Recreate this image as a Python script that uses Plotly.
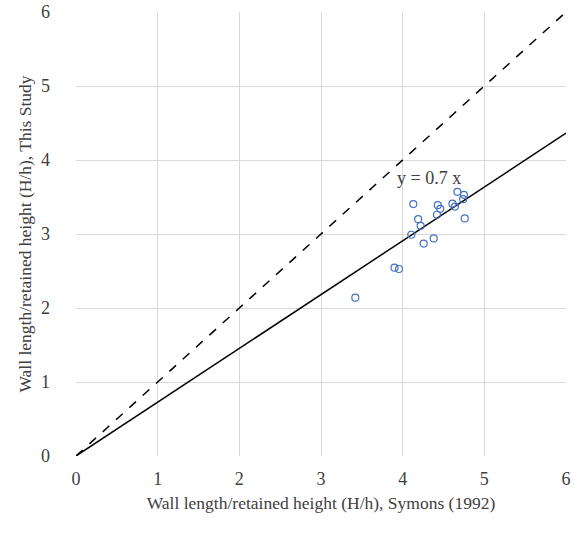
import plotly.graph_objects as go

symons_x = [3.42, 3.90, 3.955, 4.106, 4.257, 4.38, 4.13, 4.19, 4.22, 4.42, 4.43, 4.46, 4.61, 4.64, 4.67, 4.75, 4.74, 4.76]
study_y = [2.14, 2.545, 2.527, 2.99, 2.87, 2.94, 3.405, 3.20, 3.11, 3.26, 3.39, 3.34, 3.41, 3.37, 3.57, 3.53, 3.47, 3.21]
line_x = [0, 6]
fit_slope = 0.727
unity_slope = 1.0

fig = go.Figure()
fig.add_trace(go.Scatter(x=line_x, y=[unity_slope * v for v in line_x], mode="lines",
                         line=dict(color="black", width=1.5, dash="dash"), showlegend=False))
fig.add_trace(go.Scatter(x=line_x, y=[fit_slope * v for v in line_x], mode="lines",
                         line=dict(color="black", width=1.5), showlegend=False))
fig.add_trace(go.Scatter(x=symons_x, y=study_y, mode="markers",
                         marker=dict(symbol="circle-open", size=7, color="#4472C4", line=dict(width=1.2)),
                         showlegend=False, cliponaxis=False))
fig.add_annotation(x=4.32, y=3.76, text="y = 0.7 x", showarrow=False,
                   font=dict(family="Liberation Serif", size=18, color="#404040"))

tickfont = dict(family="Liberation Serif", size=18, color="#404040")
titlefont = dict(family="Liberation Serif", size=17.5, color="#404040")
fig.update_layout(
    width=581, height=535,
    margin=dict(l=76, r=15, t=12, b=79, autoexpand=False),
    plot_bgcolor="white", paper_bgcolor="white",
    font=tickfont,
    hovermode=False,
    xaxis=dict(range=[0, 6], dtick=1, showgrid=True, gridcolor="#d9d9d9", gridwidth=1,
               zeroline=False, showline=False, ticks="", tickfont=tickfont, automargin=False,
               ticklabelstandoff=10, ticklabeloverflow="allow",
               title=dict(text="Wall length/retained height (H/h), Symons (1992)",
                          font=titlefont, standoff=8)),
    yaxis=dict(range=[0, 6], dtick=1, showgrid=True, gridcolor="#d9d9d9", gridwidth=1,
               zeroline=False, showline=False, ticks="", tickfont=tickfont, automargin=False,
               ticklabelstandoff=25, ticklabeloverflow="allow",
               title=dict(text="Wall length/retained height (H/h), This Study",
                          font=titlefont, standoff=4)),
)
fig.write_html("out.html", config={"displayModeBar": False},
               post_script="document.body.style.margin='0';document.body.style.overflow='hidden';")
